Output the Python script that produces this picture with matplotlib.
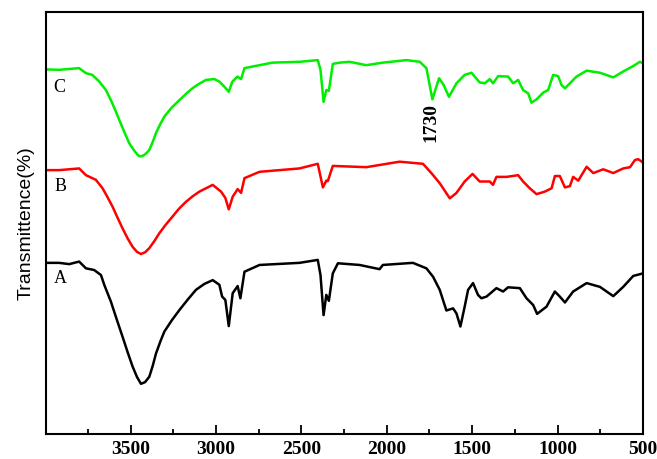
import matplotlib
matplotlib.use("Agg")
import matplotlib.pyplot as plt
from matplotlib.ticker import MultipleLocator

# Wavenumber (cm-1) and transmittance (arbitrary offset %) for each spectrum
wn_C = [3994, 3918, 3859, 3801, 3761, 3724, 3683, 3644, 3615, 3590, 3566, 3537, 3508, 3485,
        3472, 3460, 3449, 3435, 3420, 3405, 3390, 3370, 3351, 3325, 3302, 3260, 3214, 3175,
        3138, 3098, 3058, 3009, 2980, 2951, 2925, 2904, 2874, 2853, 2833,
        2745, 2669, 2511, 2404, 2388, 2370, 2354, 2339, 2316, 2276, 2218, 2120, 2023, 1885,
        1807, 1768, 1733, 1694, 1667, 1636, 1592, 1544, 1504, 1456, 1426, 1397, 1378, 1348,
        1290, 1260, 1231, 1202, 1172, 1153, 1123, 1084, 1055, 1026, 997, 977, 957, 928, 889,
        830, 752, 674, 616, 557, 518, 500]
T_C = [86.5, 86.4, 86.6, 86.8, 85.6, 85.2, 83.6, 81.6, 79.2, 76.9, 74.5, 71.7, 69.0, 67.6,
       66.9, 66.3, 65.9, 65.9, 66.2, 66.7, 67.4, 69.3, 71.4, 73.6, 75.3, 77.4, 79.2, 80.7,
       82.0, 83.1, 84.0, 84.2, 83.6, 82.4, 81.2, 83.6, 84.8, 84.2, 86.8,
       87.5, 88.1, 88.3, 88.7, 86.4, 78.8, 81.6, 81.4, 87.8, 88.1, 88.3, 87.5, 88.1, 88.7,
       88.3, 86.8, 79.4, 84.4, 82.8, 80.0, 83.2, 85.2, 85.7, 83.4, 83.2, 84.2, 83.2, 84.9,
       84.8, 83.2, 84.0, 81.6, 80.8, 78.6, 79.4, 81.0, 81.6, 85.2, 84.9, 82.8, 82.0, 83.2, 84.8,
       86.2, 85.7, 84.6, 86.0, 87.3, 88.3, 87.9]

wn_B = [3992, 3918, 3859, 3801, 3761, 3703, 3664, 3635, 3605, 3576, 3547, 3517, 3488, 3462,
        3439, 3415, 3390, 3360, 3332, 3293, 3254, 3215, 3175, 3136,
        3097, 3019, 2970, 2945, 2925, 2902, 2873, 2853, 2833, 2745, 2511, 2404, 2374,
        2354, 2345, 2316, 2120, 1925, 1788, 1739, 1690, 1631, 1592, 1544, 1498, 1456, 1397,
        1378, 1358, 1299, 1231, 1202, 1163, 1123, 1075, 1035, 1016, 987, 957, 928, 909, 879,
        830, 791, 733, 674, 616, 576, 547, 528, 500]
T_B = [62.6, 62.6, 62.8, 63.0, 61.4, 60.3, 58.3, 56.2, 53.9, 51.3, 48.8, 46.4, 44.4, 43.2,
       42.7, 43.1, 44.1, 45.8, 47.6, 49.7, 51.6, 53.5, 55.1, 56.4,
       57.5, 59.1, 57.5, 56.0, 53.3, 56.3, 58.1, 57.2, 60.7, 62.2, 63.0, 64.1, 58.5,
       60.1, 60.0, 63.6, 63.3, 64.6, 64.1, 61.9, 59.5, 55.9, 57.2, 59.9, 61.7, 59.9, 59.9,
       59.1, 61.0, 61.0, 61.4, 59.9, 58.3, 56.9, 57.5, 58.3, 61.2, 61.2, 58.5, 58.8, 61.0, 60.1,
       63.4, 61.9, 62.8, 61.9, 63.0, 63.3, 65.0, 65.2, 64.4]

wn_A = [3992, 3918, 3859, 3801, 3761, 3713, 3673, 3654, 3615, 3581, 3547, 3517, 3488, 3462,
        3439, 3415, 3390, 3370, 3351, 3325, 3302, 3258, 3214, 3165, 3117, 3068,
        3019, 2980, 2964, 2945, 2925, 2902, 2873, 2857, 2833, 2745, 2511,
        2404, 2388, 2370, 2354, 2339, 2316, 2286, 2159, 2042, 2023, 1847, 1768, 1729, 1690,
        1651, 1612, 1592, 1569, 1544, 1524, 1495, 1466, 1446, 1416, 1358, 1319, 1290, 1221,
        1182, 1143, 1120, 1065, 1016, 987, 957, 909, 830, 752, 674, 616, 557, 500]
T_A = [40.6, 40.6, 40.3, 40.9, 39.3, 38.9, 37.7, 35.4, 31.4, 27.2, 23.1, 19.4, 16.0, 13.5,
       11.9, 12.3, 13.6, 16.2, 19.1, 22.0, 24.3, 27.0, 29.4, 31.9, 34.2, 35.6,
       36.5, 35.4, 32.6, 31.8, 25.6, 33.4, 35.1, 32.2, 38.5, 40.1, 40.6,
       41.3, 37.7, 28.2, 33.0, 31.6, 38.1, 40.5, 40.1, 39.1, 40.1, 40.6, 39.3, 37.3, 34.2,
       29.3, 29.8, 28.6, 25.5, 30.2, 34.2, 35.8, 33.0, 32.2, 32.6, 34.6, 33.8, 34.8, 34.6,
       32.2, 30.6, 28.5, 30.2, 33.8, 32.6, 31.2, 33.8, 35.8, 34.9, 32.7, 34.9, 37.5, 38.1]

curve_labels = ["A", "B", "C"]
label_pos = [(3912, 37.0), (3912, 58.8), (3918, 82.1)]
annot_text = "1730"
annot_pos = (1743, 73.8)
xticks = [3500, 3000, 2500, 2000, 1500, 1000, 500]

fig = plt.figure(figsize=(6.57, 4.59), dpi=100)
ax = fig.add_axes([0.070, 0.0545, 0.9087, 0.9183])

ax.plot(wn_C, T_C, color="#00ee00", lw=1.8)
ax.plot(wn_B, T_B, color="#ff0000", lw=1.8)
ax.plot(wn_A, T_A, color="black", lw=1.8)

for lab, (x, y) in zip(curve_labels, label_pos):
    ax.text(x, y, lab, family="Liberation Serif", fontsize=13, ha="center", va="center")

ax.text(annot_pos[0], annot_pos[1], annot_text, family="Liberation Serif", fontsize=14,
        fontweight="bold", rotation=90, ha="center", va="center")

ax.set_xlim(3995, 500)
ax.set_ylim(0, 100)
ax.set_xticks(xticks)
ax.xaxis.set_minor_locator(MultipleLocator(250))
ax.set_yticks([])
ax.tick_params(axis="x", which="major", direction="in", length=6.5, width=1.3,
               labelsize=14, pad=5, top=False)
ax.tick_params(axis="x", which="minor", direction="in", length=3.6, width=1.3, top=False)
for lbl in ax.get_xticklabels():
    lbl.set_family("Liberation Serif")
    lbl.set_fontweight("bold")
for sp in ax.spines.values():
    sp.set_linewidth(1.5)

ax.set_ylabel("Transmittence(%)", family="Liberation Sans", fontsize=14, labelpad=8)

fig.savefig("out.png", dpi=100)
